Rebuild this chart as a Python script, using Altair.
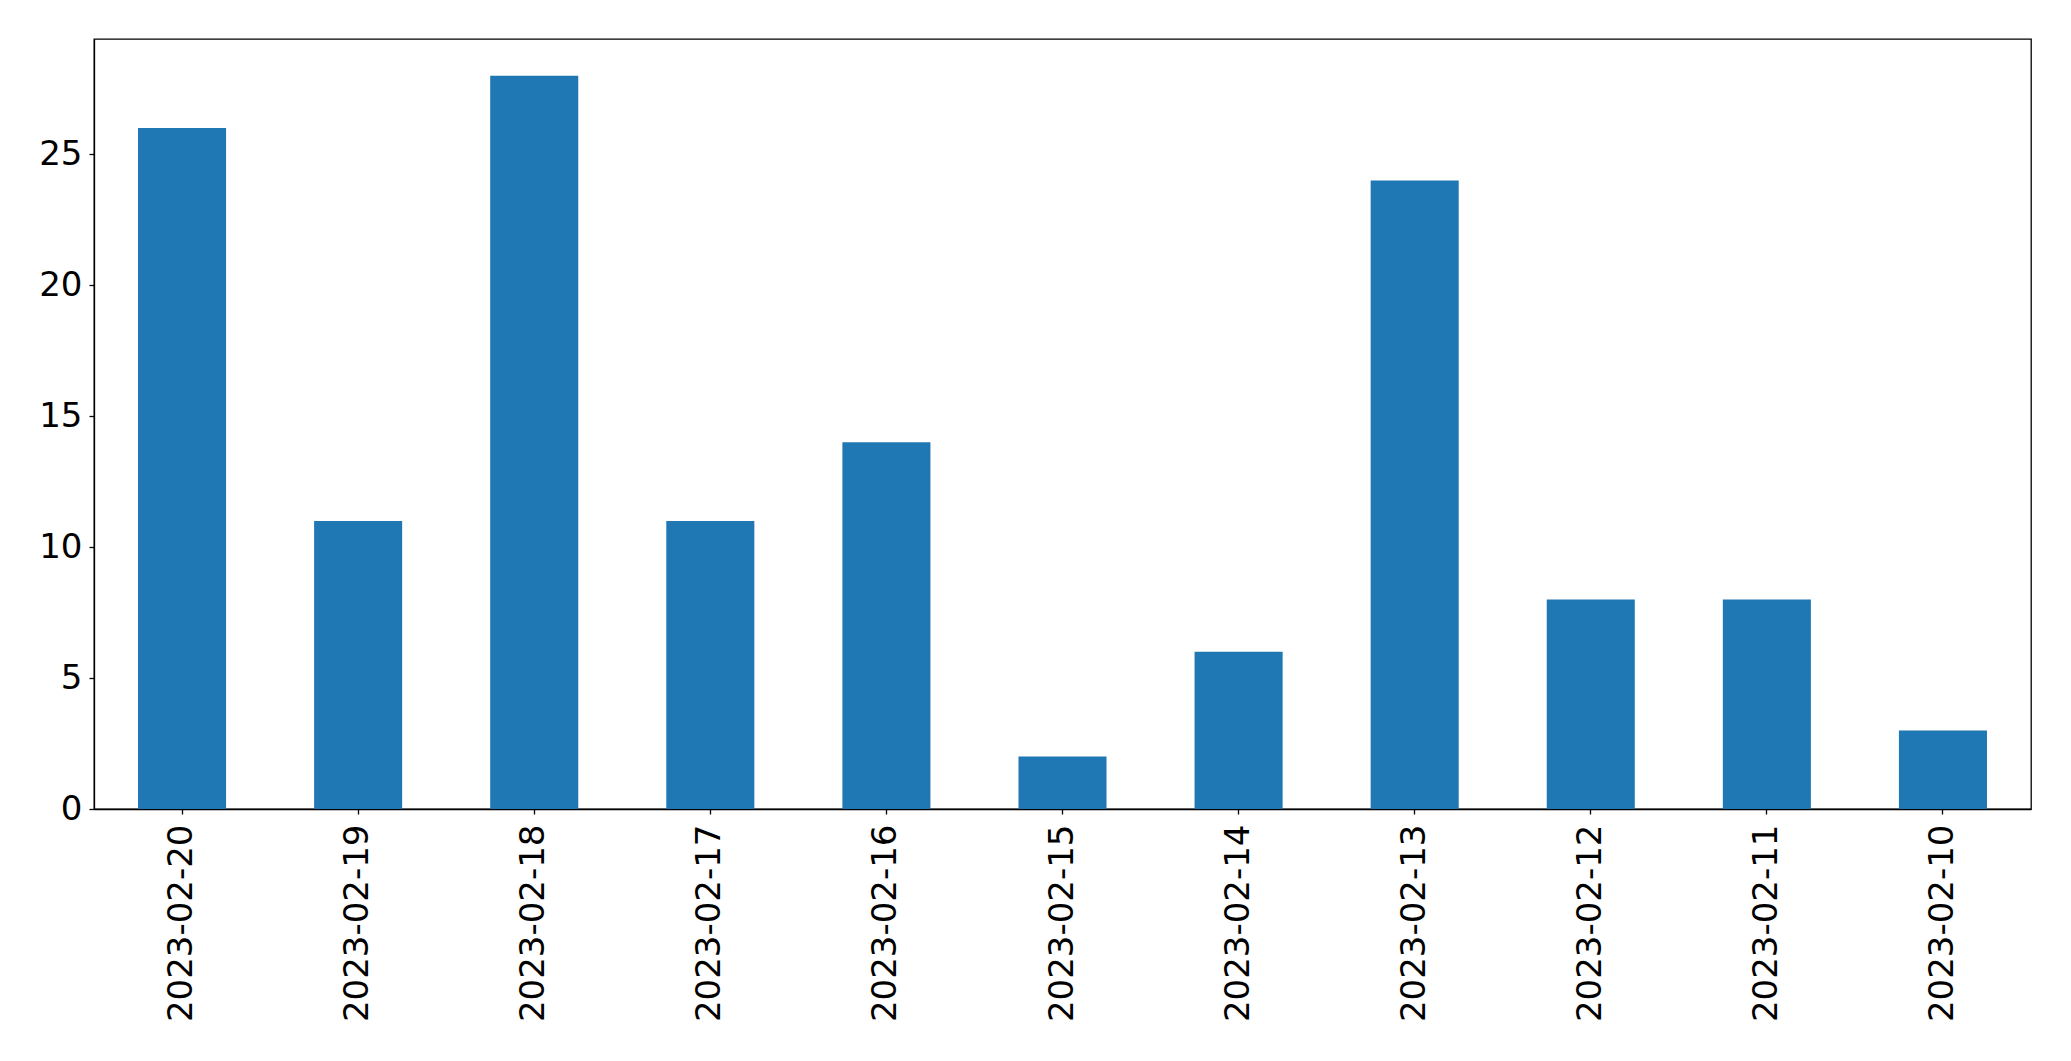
import altair as alt
import pandas as pd

dates = ["2023-02-20", "2023-02-19", "2023-02-18", "2023-02-17", "2023-02-16", "2023-02-15",
         "2023-02-14", "2023-02-13", "2023-02-12", "2023-02-11", "2023-02-10"]
counts = [26, 11, 28, 11, 14, 2, 6, 24, 8, 8, 3]
y_ticks = [0, 5, 10, 15, 20, 25]

df = pd.DataFrame({"date": dates, "count": counts})

FONT = "DejaVu Sans"

chart = alt.Chart(df).mark_bar(color="#1f77b4").encode(
    x=alt.X("date:N", sort=dates, title=None,
            scale=alt.Scale(paddingInner=0.5, paddingOuter=0.25),
            axis=alt.Axis(labelAngle=270, labelAlign="right", labelBaseline="middle",
                          labelFontSize=34, labelFont=FONT, labelColor="black", labelLimit=0,
                          tickColor="black", tickSize=5, tickWidth=1.3,
                          domainColor="black", domainWidth=1.3, labelPadding=10)),
    y=alt.Y("count:Q", title=None,
            scale=alt.Scale(domain=[0, 29.4], nice=False, zero=True),
            axis=alt.Axis(values=y_ticks, grid=False, labelFontSize=34, labelFont=FONT,
                          labelColor="black", tickColor="black", tickSize=5, tickWidth=1.3,
                          domainColor="black", domainWidth=1.3, labelPadding=7)),
).properties(
    width=1937, height=770,
    autosize=alt.AutoSizeParams(type="none"),
    padding={"left": 86, "top": 31, "right": 25, "bottom": 230},
).configure_view(
    stroke="black", strokeWidth=1.3
)

chart.save("out.html", embed_options={"renderer": "svg", "actions": False})
